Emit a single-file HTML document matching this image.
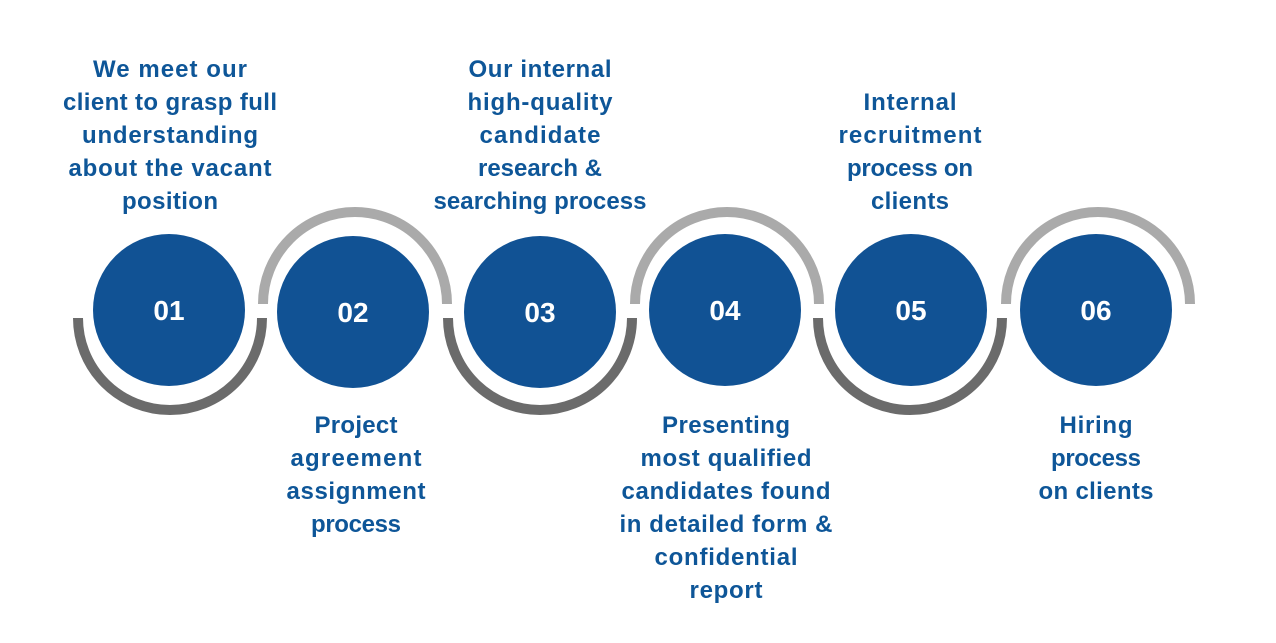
<!DOCTYPE html>
<html><head><meta charset="utf-8"><style>
html,body{margin:0;padding:0;background:#fff;}
svg{display:block}
text{font-family:"Liberation Sans",sans-serif;}
.t{fill:#0e5698;font-size:24px;font-weight:bold;text-anchor:middle;}
.n{fill:#fff;font-size:28px;font-weight:bold;text-anchor:middle;}
</style></head><body>
<svg width="1276" height="643" viewBox="0 0 1276 643" xmlns="http://www.w3.org/2000/svg">
<g fill="none" stroke-width="10">
<path d="M78 318 A92 92 0 0 0 262 318" stroke="#6b6b6b"/>
<path d="M448 318 A92 92 0 0 0 632 318" stroke="#6b6b6b"/>
<path d="M818 318 A92 92 0 0 0 1002 318" stroke="#6b6b6b"/>
<path d="M263 304 A92 92 0 0 1 447 304" stroke="#aaaaaa"/>
<path d="M635 304 A92 92 0 0 1 819 304" stroke="#aaaaaa"/>
<path d="M1006 304 A92 92 0 0 1 1190 304" stroke="#aaaaaa"/>
</g>
<g fill="#115294">
<circle cx="169" cy="310" r="76"/>
<circle cx="353" cy="312" r="76"/>
<circle cx="540" cy="312" r="76"/>
<circle cx="725" cy="310" r="76"/>
<circle cx="911" cy="310" r="76"/>
<circle cx="1096" cy="310" r="76"/>
</g>
<text class="n" x="169" y="320">01</text>
<text class="n" x="353" y="322">02</text>
<text class="n" x="540" y="322">03</text>
<text class="n" x="725" y="320">04</text>
<text class="n" x="911" y="320">05</text>
<text class="n" x="1096" y="320">06</text>
<g class="t" lengthAdjust="spacingAndGlyphs">
<text class="t" x="170" y="77" textLength="154">We meet our</text>
<text class="t" x="170" y="110" textLength="214">client to grasp full</text>
<text class="t" x="170" y="143" textLength="176">understanding</text>
<text class="t" x="170" y="176" textLength="203">about the vacant</text>
<text class="t" x="170" y="209" textLength="96">position</text>

<text class="t" x="540" y="77" textLength="143">Our internal</text>
<text class="t" x="540" y="110" textLength="145">high-quality</text>
<text class="t" x="540" y="143" textLength="121">candidate</text>
<text class="t" x="540" y="176" textLength="124">research &amp;</text>
<text class="t" x="540" y="209" textLength="213">searching process</text>

<text class="t" x="910" y="110" textLength="93">Internal</text>
<text class="t" x="910" y="143" textLength="143">recruitment</text>
<text class="t" x="910" y="176" textLength="126">process on</text>
<text class="t" x="910" y="209" textLength="78">clients</text>

<text class="t" x="356" y="433" textLength="83">Project</text>
<text class="t" x="356" y="466" textLength="131">agreement</text>
<text class="t" x="356" y="499" textLength="139">assignment</text>
<text class="t" x="356" y="532" textLength="90">process</text>

<text class="t" x="726" y="433" textLength="128">Presenting</text>
<text class="t" x="726" y="466" textLength="171">most qualified</text>
<text class="t" x="726" y="499" textLength="209">candidates found</text>
<text class="t" x="726" y="532" textLength="213">in detailed form &amp;</text>
<text class="t" x="726" y="565" textLength="143">confidential</text>
<text class="t" x="726" y="598" textLength="73">report</text>

<text class="t" x="1096" y="433" textLength="73">Hiring</text>
<text class="t" x="1096" y="466" textLength="90">process</text>
<text class="t" x="1096" y="499" textLength="115">on clients</text>
</g>
</svg>
</body></html>
